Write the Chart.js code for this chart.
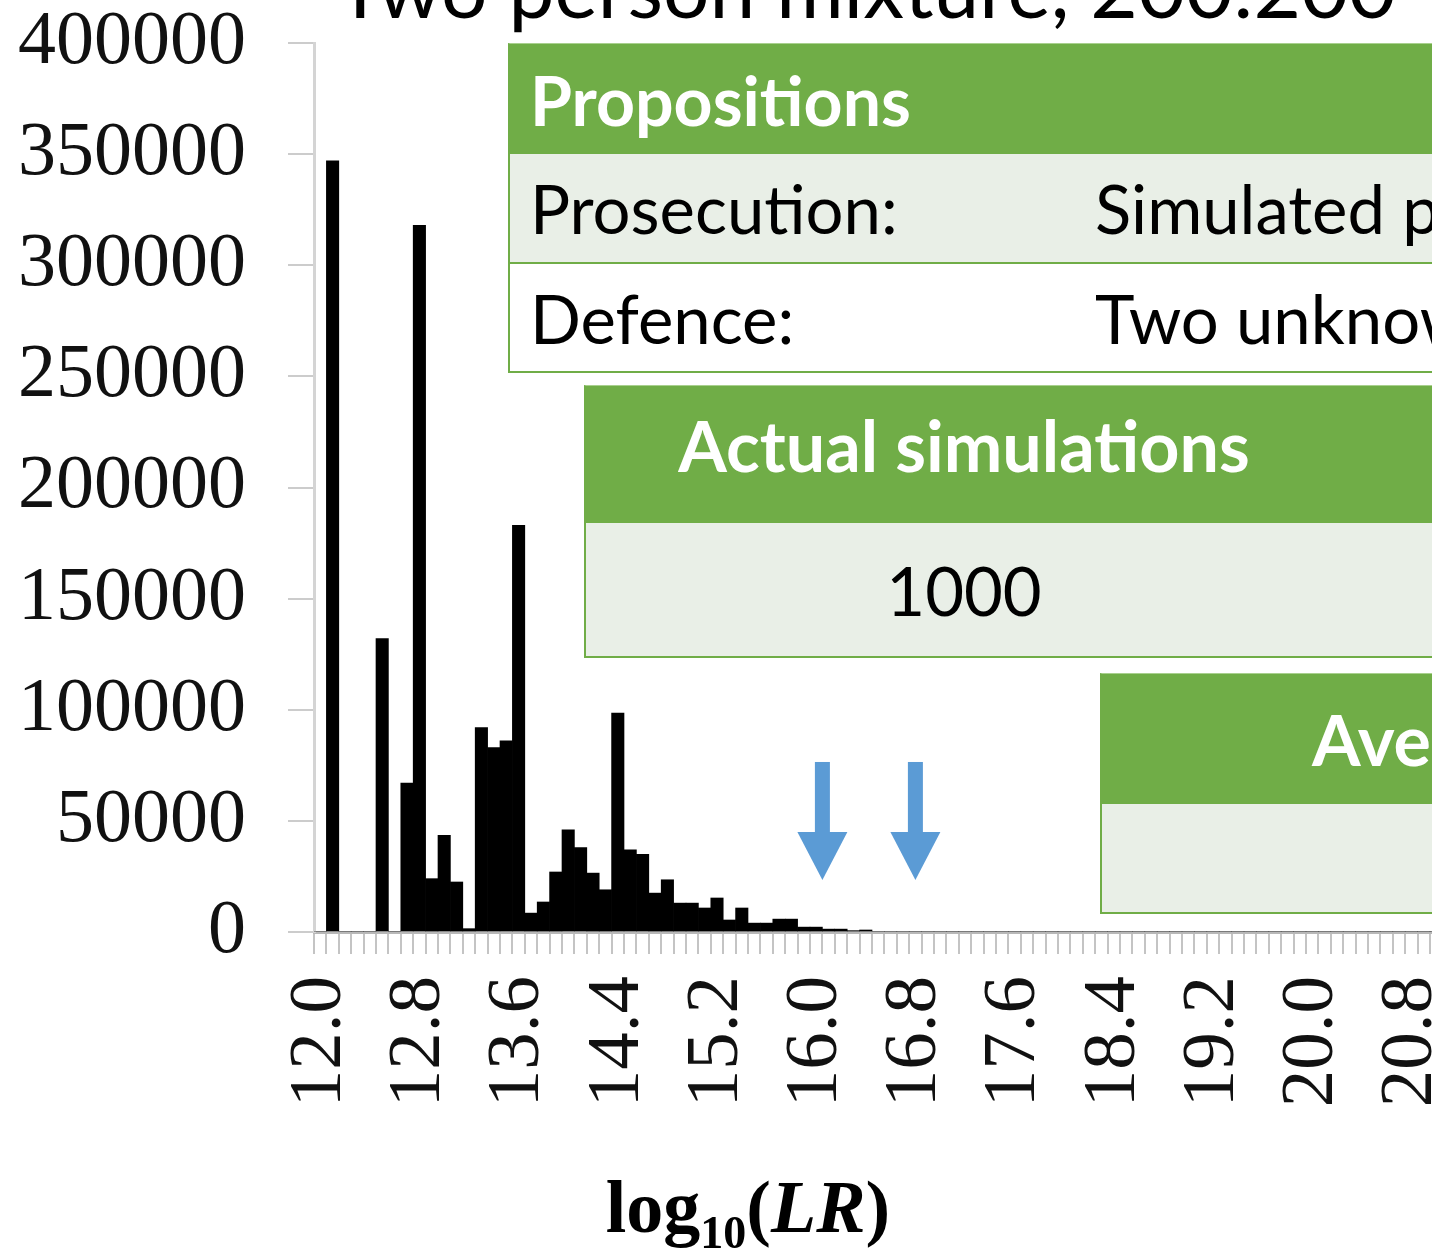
<!DOCTYPE html>
<html>
<head>
<meta charset="utf-8">
<script src="https://cdn.jsdelivr.net/npm/chart.js@4.4.0/dist/chart.umd.min.js"></script>
<style>
  html, body { margin: 0; padding: 0; width: 1432px; height: 1256px; overflow: hidden; background: #fff; }
  #wrap { position: absolute; left: 0; top: 0; width: 1600px; height: 1256px; }
  .title { position: absolute; left: 336px; top: -55px; font: 82px/82px Lato, sans-serif; color: #000; white-space: nowrap; }
  .box { position: absolute; border-left: 2px solid #70AD47; border-bottom: 2px solid #70AD47; border-top: 1px solid #A9D08E; font-family: Lato, sans-serif; }
  .row { display: flex; align-items: center; white-space: nowrap; }
  .row span { flex: none; }
  .hd { background: #70AD47; color: #fff; font-weight: bold; }
  .lt { background: #E9EFE7; }
  .wh { background: #fff; }
  .xtitle { position: absolute; left: 560px; top: 1165px; width: 376px; text-align: center; font: bold 74px 'Liberation Serif', serif; color: #000; }
  .xtitle sub { font-size: 46px; }
</style>
</head>
<body>
<div id="wrap"><canvas id="hist" width="1600" height="1256"></canvas></div>

<div class="title">Two person mixture, 200:200</div>

<div class="box" style="left:508px; top:43px; width:1100px;">
  <div class="row hd" style="height:110px; font-size:68px; padding-left:20px;">Propositions</div>
  <div class="row lt" style="height:108px; font-size:67px; border-bottom:2px solid #70AD47;">
    <span style="width:565px; padding-left:20px;">Prosecution:</span><span>Simulated person of interest</span>
  </div>
  <div class="row wh" style="height:107px; font-size:67px;">
    <span style="width:565px; padding-left:20px;">Defence:</span><span>Two unknown persons</span>
  </div>
</div>

<div class="box" style="left:584px; top:385px; width:1100px;">
  <div class="row hd" style="height:137px; font-size:70px;">
    <span style="width:756px; text-align:center; margin-top:-20px;">Actual simulations</span>
  </div>
  <div class="row lt" style="height:133px; font-size:67px;">
    <span style="width:756px; text-align:center;">1000</span>
  </div>
</div>

<div class="box" style="left:1100px; top:673px; width:600px;">
  <div class="row hd" style="height:130px; font-size:70px; padding-left:210px;">Average</div>
  <div class="row lt" style="height:108px;"></div>
</div>

<div class="xtitle">log<sub>10</sub>(<i>LR</i>)</div>

<script>
// histogram bins of log10(LR), width 0.1
const categories = [
  '12.0','12.1','12.2','12.3','12.4','12.5','12.6','12.7','12.8','12.9',
  '13.0','13.1','13.2','13.3','13.4','13.5','13.6','13.7','13.8','13.9',
  '14.0','14.1','14.2','14.3','14.4','14.5','14.6','14.7','14.8','14.9',
  '15.0','15.1','15.2','15.3','15.4','15.5','15.6','15.7','15.8','15.9',
  '16.0','16.1','16.2','16.3','16.4','16.5','16.6','16.7','16.8','16.9',
  '17.0','17.1','17.2','17.3','17.4','17.5','17.6','17.7','17.8','17.9',
  '18.0','18.1','18.2','18.3','18.4','18.5','18.6','18.7','18.8','18.9',
  '19.0','19.1','19.2','19.3','19.4','19.5','19.6','19.7','19.8','19.9',
  '20.0','20.1','20.2','20.3','20.4','20.5','20.6','20.7','20.8','20.9',
  '21.0','21.1','21.2','21.3','21.4','21.5','21.6','21.7','21.8','21.9'
];

const counts = [
  0, 347000, 0, 0, 0, 132000, 0, 67000, 318000, 24000,
  43500, 22500, 1500, 92000, 83000, 86000, 183000, 8500, 13500, 27000,
  46000, 38000, 26500, 19000, 98500, 37000, 35000, 17500, 23500, 13000,
  13000, 10800, 15300, 5400, 10800, 4000, 4000, 5800, 5800, 2200,
  2200, 1300, 1300, 600, 900, 0, 0, 0, 0, 0,
  0, 0, 0, 0, 0, 0, 0, 0, 0, 0,
  0, 0, 0, 0, 0, 0, 0, 0, 0, 0,
  0, 0, 0, 0, 0, 0, 0, 0, 0, 0,
  0, 0, 0, 0, 0, 0, 0, 0, 0, 0,
  0, 0, 0, 0, 0, 0, 0, 0, 0, 0
];

const xTickLabels = ['12.0', '12.8', '13.6', '14.4', '15.2', '16.0', '16.8', '17.6', '18.4', '19.2', '20.0', '20.8'];
const yTicks = [0, 50000, 100000, 150000, 200000, 250000, 300000, 350000, 400000];

// blue arrows (log10 LR position), from top value down to tip value
const arrowAt = [16.05, 16.8];
const arrowTop = 76500;
const arrowTip = 23400;

const arrowPlugin = {
    id: 'arrows',
    afterDatasetsDraw(chart) {
        const { ctx, scales: { x, y } } = chart;
        const first = parseFloat(categories[0]);
        ctx.save();
        ctx.fillStyle = '#5B9BD5';
        arrowAt.forEach(v => {
            const px = x.getPixelForValue((v - first) / 0.1);
            const top = y.getPixelForValue(arrowTop);
            const tip = y.getPixelForValue(arrowTip);
            const headY = tip - 48;
            ctx.fillRect(px - 7.5, top, 15, headY - top + 1);
            ctx.beginPath();
            ctx.moveTo(px - 25, headY);
            ctx.lineTo(px + 25, headY);
            ctx.lineTo(px, tip);
            ctx.closePath();
            ctx.fill();
        });
        ctx.restore();
    }
};

const ctx = document.getElementById('hist').getContext('2d');
new Chart(ctx, {
    type: 'bar',
    data: {
        labels: categories,
        datasets: [{
            data: counts,
            backgroundColor: '#000',
            borderWidth: 0,
            barPercentage: 1,
            categoryPercentage: 1
        }]
    },
    options: {
        responsive: false,
        animation: false,
        layout: { padding: { top: 43, right: 46, left: 0, bottom: 0 } },
        plugins: {
            legend: { display: false },
            tooltip: { enabled: false }
        },
        scales: {
            x: {
                offset: true,
                grid: { drawOnChartArea: false, tickLength: 22, color: '#c4c4c4', lineWidth: 2 },
                border: { color: '#b8b8b8', width: 3 },
                ticks: {
                    autoSkip: false,
                    minRotation: 90,
                    maxRotation: 90,
                    padding: 22,
                    color: '#111',
                    font: { family: 'Liberation Serif', size: 75 },
                    callback: function (value) {
                        const c = this.getLabelForValue(value);
                        return xTickLabels.includes(c) ? c : '';
                    }
                },
                afterFit: (scale) => {
                    scale.height = 324;
                    scale.paddingLeft = 0;
                    scale.paddingRight = 0;
                }
            },
            y: {
                min: 0,
                max: 400000,
                afterBuildTicks: (scale) => { scale.ticks = yTicks.map(v => ({ value: v })); },
                grid: { drawOnChartArea: false, tickLength: 26, color: '#cccccc', lineWidth: 2 },
                border: { color: '#d4d4d4', width: 3 },
                ticks: {
                    padding: 42,
                    color: '#111',
                    font: { family: 'Liberation Serif', size: 76 },
                    callback: (value) => String(value)
                },
                afterFit: (scale) => {
                    scale.width = 314;
                    scale.paddingTop = 0;
                    scale.paddingBottom = 0;
                }
            }
        }
    },
    plugins: [arrowPlugin]
});
</script>
</body>
</html>
